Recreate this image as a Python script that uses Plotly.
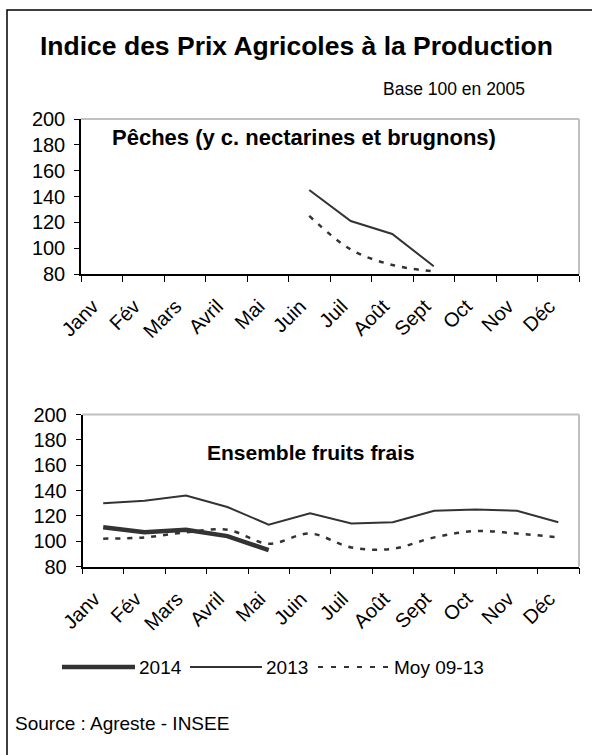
import plotly.graph_objects as go

months = ["Janv", "Fév", "Mars", "Avril", "Mai", "Juin", "Juil", "Août", "Sept", "Oct", "Nov", "Déc"]

# Pêches (y c. nectarines et brugnons)
peches_2013 = [None, None, None, None, None, 145, 121, 111, 86, None, None, None]
peches_moy = [None, None, None, None, None, 125, 99, 87, 82, None, None, None]

# Ensemble fruits frais
fruits_2014 = [111, 107, 109, 104, 93, None, None, None, None, None, None, None]
fruits_2013 = [130, 132, 136, 127, 113, 122, 114, 115, 124, 125, 124, 115]
fruits_moy = [102, 103, 107, 109, 98, 106, 95, 94, 103, 108, 106, 103]

W, H = 592, 755
FONT = "Liberation Sans, Arial, sans-serif"
DARK = "#333333"

def px(x):
    return x / W

def py(y):
    return 1 - y / H

fig = go.Figure()

fig.add_trace(go.Scatter(x=months, y=peches_2013, mode="lines", line=dict(color=DARK, width=2),
                         xaxis="x", yaxis="y", showlegend=False))
fig.add_trace(go.Scatter(x=months, y=peches_moy, mode="lines", line=dict(color=DARK, width=2.5, dash="5px,7px"),
                         line_shape="spline", xaxis="x", yaxis="y", showlegend=False))
fig.add_trace(go.Scatter(x=months, y=fruits_2013, mode="lines", line=dict(color=DARK, width=2),
                         xaxis="x2", yaxis="y2", showlegend=False))
fig.add_trace(go.Scatter(x=months, y=fruits_moy, mode="lines", line=dict(color=DARK, width=2.5, dash="5px,7px"),
                         line_shape="spline", xaxis="x2", yaxis="y2", showlegend=False))
fig.add_trace(go.Scatter(x=months, y=fruits_2014, mode="lines", line=dict(color=DARK, width=4.5),
                         xaxis="x2", yaxis="y2", showlegend=False))

xcommon = dict(type="category", categoryorder="array", categoryarray=months, range=[-0.5, 11.5],
               showline=True, linecolor="black", linewidth=1.5, ticks="outside", ticklen=6,
               tickcolor="black", tickwidth=1.2, tickson="boundaries", tickangle=-45,
               showgrid=False, zeroline=False, tickfont=dict(family=FONT, size=20, color="black"),
               ticklabelstandoff=11, ticklabelshift=-9, fixedrange=True, automargin=False)
ycommon = dict(range=[80, 200], dtick=20, tick0=80, showline=True, linecolor="black", linewidth=1.5,
               ticks="outside", ticklen=5, tickcolor="black", tickwidth=1.2, showgrid=False,
               zeroline=False, tickfont=dict(family=FONT, size=20, color="black"),
               ticklabelstandoff=5, fixedrange=True, automargin=False)

fig.update_layout(
    width=W, height=H, autosize=False,
    margin=dict(l=0, r=0, t=0, b=0, pad=0),
    paper_bgcolor="white", plot_bgcolor="white",
    xaxis=dict(domain=[px(81), px(579)], anchor="y", **xcommon),
    yaxis=dict(domain=[py(274), py(119)], anchor="x", **ycommon),
    xaxis2=dict(domain=[px(82.5), px(579)], anchor="y2", **xcommon),
    yaxis2=dict(domain=[py(566.5), py(414.5)], anchor="x2", **ycommon),
    showlegend=False,
)

shapes = []
for xr, yr in (("x", "y"), ("x2", "y2")):
    shapes.append(dict(type="line", xref=xr + " domain", yref=yr + " domain", x0=0, x1=1, y0=1, y1=1,
                       line=dict(color="#c0c0c0", width=2), layer="below"))
    shapes.append(dict(type="line", xref=xr + " domain", yref=yr + " domain", x0=1, x1=1, y0=0, y1=1,
                       line=dict(color="#c0c0c0", width=2), layer="below"))
# outer frame (top and left edges visible)
shapes.append(dict(type="rect", xref="paper", yref="paper", x0=px(7), x1=px(620), y0=py(790), y1=py(10),
                   line=dict(color="black", width=1.5), layer="below"))

ly = py(667)
shapes.append(dict(type="line", xref="paper", yref="paper", x0=px(62), x1=px(135), y0=ly, y1=ly,
                   line=dict(color=DARK, width=4.5)))
shapes.append(dict(type="line", xref="paper", yref="paper", x0=px(190), x1=px(262), y0=ly, y1=ly,
                   line=dict(color=DARK, width=2)))
shapes.append(dict(type="line", xref="paper", yref="paper", x0=px(318), x1=px(390), y0=ly, y1=ly,
                   line=dict(color=DARK, width=2, dash="5px,8px")))
fig.update_layout(shapes=shapes)

annotations = [
    dict(text="<b>Indice des Prix Agricoles à la Production</b>", x=px(296), y=py(46),
         font=dict(family=FONT, size=26.5, color="black")),
    dict(text="Base 100 en 2005", x=px(527), y=py(89), xanchor="right",
         font=dict(family=FONT, size=17.5, color="black")),
    dict(text="<b>Pêches (y c. nectarines et brugnons)</b>", x=px(110), y=py(138), xanchor="left",
         font=dict(family=FONT, size=22, color="black")),
    dict(text="<b>Ensemble fruits frais</b>", x=px(205), y=py(452), xanchor="left",
         font=dict(family=FONT, size=21, color="black")),
    dict(text="2014", x=px(137), y=ly, xanchor="left", font=dict(family=FONT, size=19, color="black")),
    dict(text="2013", x=px(264), y=ly, xanchor="left", font=dict(family=FONT, size=19, color="black")),
    dict(text="Moy 09-13", x=px(392), y=ly, xanchor="left", font=dict(family=FONT, size=19, color="black")),
    dict(text="Source : Agreste - INSEE", x=px(13), y=py(723), xanchor="left",
         font=dict(family=FONT, size=19, color="black")),
]
for a in annotations:
    a.setdefault("xanchor", "center")
    a.update(xref="paper", yref="paper", showarrow=False, yanchor="middle")
fig.update_layout(annotations=annotations)

fig.write_html("out.html", config={"displayModeBar": False},
               post_script="document.body.style.margin='0';document.body.style.overflow='hidden';")
